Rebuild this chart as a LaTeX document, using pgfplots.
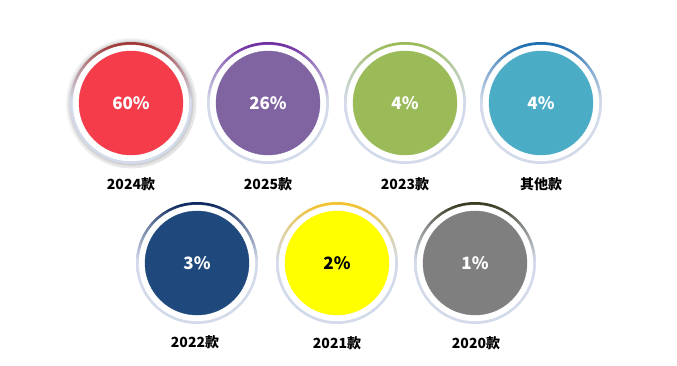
\documentclass[border=0pt]{standalone}
\usepackage{pgfplots}
\pgfplotsset{compat=1.18}
\usepackage{fontspec}
\newfontfamily\cjk{Noto Sans CJK SC}
\usetikzlibrary{shadows}
\definecolor{ringlow}{HTML}{D3DAEA}
\definecolor{ringtop}{HTML}{000000}
\definecolor{cRed}{HTML}{F43C4A}
\definecolor{cPurple}{HTML}{8064A2}
\definecolor{cGreen}{HTML}{9BBB59}
\definecolor{cTeal}{HTML}{4BACC6}
\definecolor{cNavy}{HTML}{1F497D}
\definecolor{cYellow}{HTML}{FFFF00}
\definecolor{cGray}{HTML}{7F7F7F}
\definecolor{rRed}{HTML}{A03A38}
\definecolor{rPurple}{HTML}{7030A0}
\definecolor{rGreen}{HTML}{9BBB59}
\definecolor{rTeal}{HTML}{1E6FB0}
\definecolor{rNavy}{HTML}{0F2A60}
\definecolor{rYellow}{HTML}{F2C230}
\definecolor{rGray}{HTML}{3C3C24}
\pgfdeclareverticalshading[ringtop,ringlow]{ringshade}{100bp}{color(0bp)=(ringlow); color(25bp)=(ringlow); color(51bp)=(ringlow); color(65bp)=(ringtop!50!ringlow); color(74bp)=(ringtop); color(100bp)=(ringtop)}
\pgfplotsset{
  circ/.style n args={3}{only marks, mark=none, point meta=explicit symbolic,
    nodes near coords,
    every node near coord/.append style={anchor=center, circle, minimum size=122pt,
      inner sep=0pt, /utils/exec={\colorlet{ringtop}{#1}}, shading=ringshade, shade,
      text=#3, font=\cjk\bfseries\fontsize{17}{20}\selectfont,
      path picture={\fill[white] (path picture bounding box.center) circle[radius=58pt];
        \fill[#2] (path picture bounding box.center) circle[radius=52pt];}}},
}
\begin{document}
\begin{tikzpicture}
\begin{axis}[width=677pt, height=366pt, scale only axis,
  xmin=0, xmax=677, ymin=0, ymax=366, y dir=reverse,
  hide axis, clip=false]
\path (rel axis cs:0,0) rectangle (rel axis cs:1,1);
\addplot[circ={rRed}{cRed}{white}, every node near coord/.append style={circular glow={fill=black!40, shadow scale=1.07}}] coordinates {(131,103)[60\%]};
\addplot[circ={rPurple}{cPurple}{white}] coordinates {(268,103)[26\%]};
\addplot[circ={rGreen}{cGreen}{white}] coordinates {(405,103)[4\%]};
\addplot[circ={rTeal}{cTeal}{white}] coordinates {(541,103)[4\%]};
\addplot[circ={rNavy}{cNavy}{white}] coordinates {(197,263)[3\%]};
\addplot[circ={rYellow}{cYellow}{black}] coordinates {(337,263)[2\%]};
\addplot[circ={rGray}{cGray}{white}] coordinates {(475,263)[1\%]};
\addplot[only marks, mark=none, point meta=explicit symbolic, nodes near coords,
  every node near coord/.append style={anchor=center, text=black,
    font=\cjk\bfseries\fontsize{14}{16}\selectfont}]
  coordinates {(131,184)[2024款] (268,184)[2025款] (405,184)[2023款] (541,184)[其他款]
               (195,342)[2022款] (337,343)[2021款] (476,343)[2020款]};
\end{axis}
\end{tikzpicture}
\end{document}
